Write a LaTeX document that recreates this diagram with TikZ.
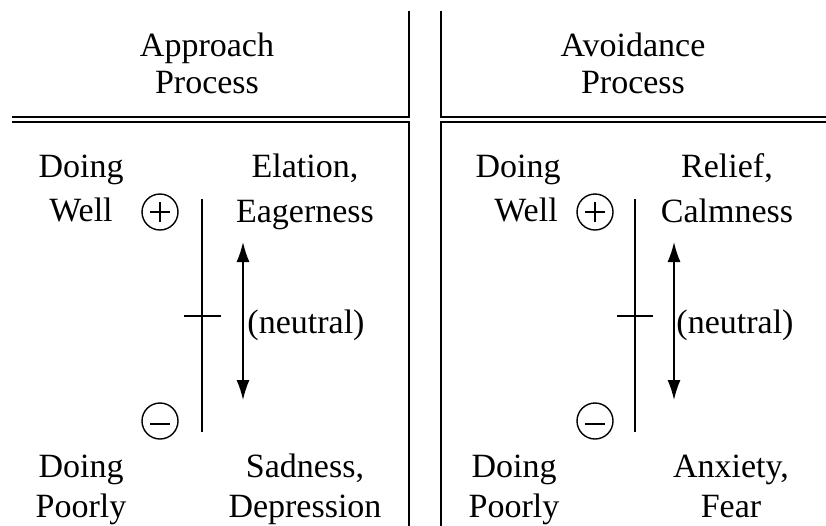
\documentclass[tikz,border=0pt]{standalone}
\usepackage{fontspec}
\setmainfont{Liberation Serif}
\usetikzlibrary{arrows.meta}
\begin{document}
\begin{tikzpicture}[x=1pt,y=-1pt,
  frame/.style={line width=2.2pt,line cap=rect},
  lbl/.style={font=\fontsize{34}{38}\selectfont,inner sep=0pt,anchor=base},
  sign/.style={circle,draw,line width=1.4pt,minimum size=36pt,inner sep=0pt},
  axis/.style={line width=1.6pt},
  glyph/.style={line width=1.5pt},
  arr/.style={line width=1.6pt,{Latex[length=20pt,width=13pt]}-{Latex[length=20pt,width=13pt]}}]
\useasboundingbox (0,0) rectangle (826,525);
% frame
\draw[frame] (409,12) -- (409,117) -- (13,117);
\draw[frame] (13,122) -- (409,122) -- (409,526);
\draw[frame] (441,12) -- (441,117) -- (827,117);
\draw[frame] (827,122) -- (441,122) -- (441,526);
% headers
\node[lbl] (hA1) at (207,56) {Approach};
\node[lbl] (hA2) at (207,93) {Process};
\node[lbl] (hB1) at (633,56) {Avoidance};
\node[lbl] (hB2) at (633,93) {Process};
% left panel
\node[lbl] (dw1) at (81,177) {Doing};
\node[lbl] (dw2) at (81,221) {Well};
\node[lbl] (dp1) at (81,477) {Doing};
\node[lbl] (dp2) at (81,517) {Poorly};
\node[sign] (pA) at (160,212) {};
\draw[glyph] ([xshift=-10pt]pA.center) -- ([xshift=10pt]pA.center);
\draw[glyph] ([yshift=-10pt]pA.center) -- ([yshift=10pt]pA.center);
\node[sign] (mA) at (160,421) {};
\draw[glyph] ([xshift=-10pt,yshift=-3pt]mA.center) -- ([xshift=10pt,yshift=-3pt]mA.center);
\coordinate (vA1) at (202,199);
\coordinate (vA2) at (202,432);
\draw[axis] (vA1) -- (vA2);
\coordinate (tA1) at (184,316);
\coordinate (tA2) at (221,316);
\draw[axis] (tA1) -- (tA2);
\coordinate (aA1) at (243,242);
\coordinate (aA2) at (243,400);
\draw[arr] (aA1) -- (aA2);
\node[lbl] (eA1) at (305,177) {Elation,};
\node[lbl] (eA2) at (305,222) {Eagerness};
\node[lbl] (nA) at (306,333) {(neutral)};
\node[lbl] (sA1) at (305,477) {Sadness,};
\node[lbl] (sA2) at (305,517) {Depression};
% right panel
\node[lbl] (dw3) at (518,177) {Doing};
\node[lbl] (dw4) at (526,221) {Well};
\node[lbl] (dp3) at (514,477) {Doing};
\node[lbl] (dp4) at (514,517) {Poorly};
\node[sign] (pB) at (595,212) {};
\draw[glyph] ([xshift=-10pt]pB.center) -- ([xshift=10pt]pB.center);
\draw[glyph] ([yshift=-10pt]pB.center) -- ([yshift=10pt]pB.center);
\node[sign] (mB) at (595,421) {};
\draw[glyph] ([xshift=-10pt,yshift=-3pt]mB.center) -- ([xshift=10pt,yshift=-3pt]mB.center);
\coordinate (vB1) at (635,199);
\coordinate (vB2) at (635,432);
\draw[axis] (vB1) -- (vB2);
\coordinate (tB1) at (617,316);
\coordinate (tB2) at (653,316);
\draw[axis] (tB1) -- (tB2);
\coordinate (aB1) at (674,242);
\coordinate (aB2) at (674,400);
\draw[arr] (aB1) -- (aB2);
\node[lbl] (eB1) at (727,177) {Relief,};
\node[lbl] (eB2) at (727,222) {Calmness};
\node[lbl] (nB) at (735,333) {(neutral)};
\node[lbl] (sB1) at (731,477) {Anxiety,};
\node[lbl] (sB2) at (731,517) {Fear};
\end{tikzpicture}
\end{document}
